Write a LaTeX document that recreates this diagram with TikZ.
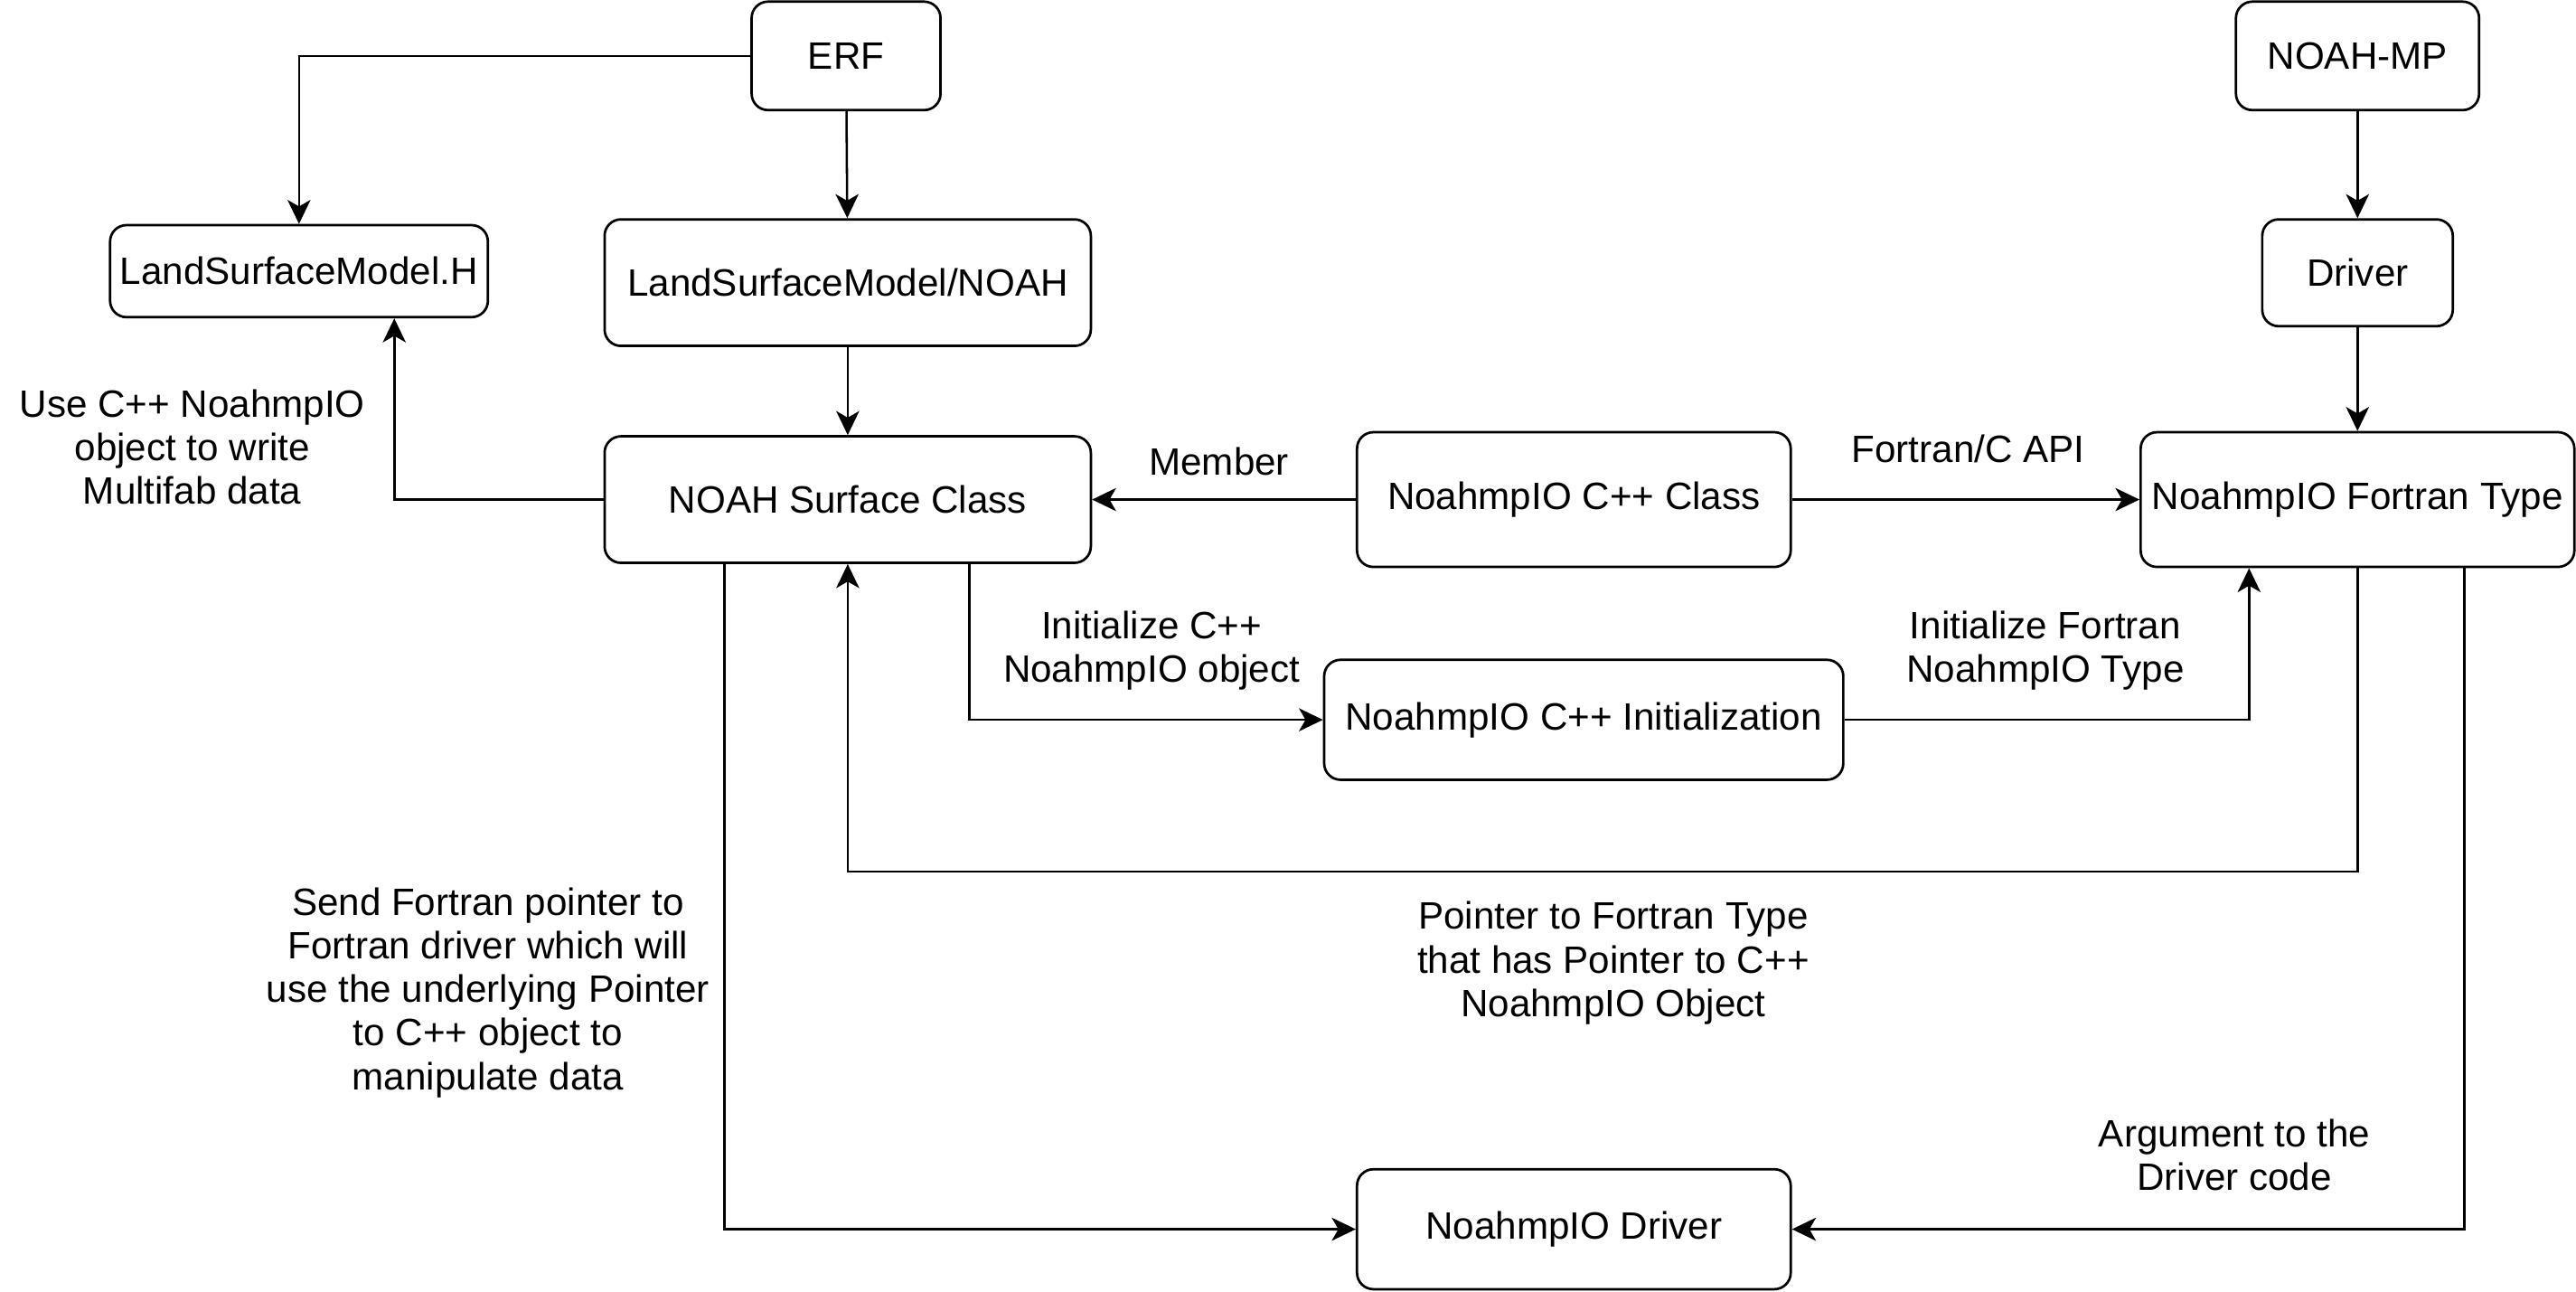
\documentclass[tikz,border=0pt]{standalone}
\usepackage{fontspec}
\setmainfont{Liberation Sans}
\usetikzlibrary{arrows.meta}
\tikzset{
  box/.style={draw, rounded corners=5pt, line width=0.75pt, inner sep=0pt, align=center},
  lbl/.style={align=center, inner sep=0pt},
  arr/.style={-{Stealth[length=7.3pt,width=7pt,inset=2pt]}, line width=0.7pt}
}
\begin{document}
\begin{tikzpicture}[x=0.5pt, y=-0.5pt, font=\fontsize{11.6}{13.25}\selectfont]
\useasboundingbox (0,0) rectangle (1568,786);
\node (erf) [box, minimum width=57.5pt, minimum height=33pt] at (515,34) {ERF};
\node (noahmp) [box, minimum width=74pt, minimum height=33pt] at (1435,34) {NOAH-MP};
\node (lsmh) [box, minimum width=115pt, minimum height=28pt] at (182,165) {LandSurfaceModel.H};
\node (lsmnoah) [box, minimum width=148pt, minimum height=38.5pt] at (516,172) {LandSurfaceModel/NOAH};
\node (driver) [box, minimum width=58pt, minimum height=32.5pt] at (1435,166) {Driver};
\node (nsc) [box, minimum width=148pt, minimum height=38.5pt] at (516,304) {NOAH Surface Class};
\node (cclass) [box, minimum width=132pt, minimum height=41pt] at (958,304) {NoahmpIO C++ Class};
\node (ftype) [box, minimum width=132pt, minimum height=41pt] at (1435,304) {NoahmpIO Fortran Type};
\node (cinit) [box, minimum width=158pt, minimum height=36.5pt] at (964,438) {NoahmpIO C++ Initialization};
\node (ndriver) [box, minimum width=132pt, minimum height=36.5pt] at (958,748) {NoahmpIO Driver};

\node (usecpp) [lbl] at (117,272) {Use C++ NoahmpIO\\object to write\\Multifab data};
\node (member) [lbl] at (742,281) {Member};
\node (fcapi) [lbl] at (1198,273) {Fortran/C API};
\node (initcpp) [lbl] at (701,396) {Initialize C++\\NoahmpIO object};
\node (initf) [lbl] at (1245,396) {Initialize Fortran\\NoahmpIO Type};
\node (ptrf) [lbl] at (982,586) {Pointer to Fortran Type\\that has Pointer to C++\\NoahmpIO Object};
\node (sendf) [lbl] at (297,604) {Send Fortran pointer to\\Fortran driver which will\\use the underlying Pointer\\to C++ object to\\manipulate data};
\node (argdrv) [lbl] at (1360,703) {Argument to the\\Driver code};

\draw [arr] (erf.west) -| (lsmh.north);
\draw [arr] (erf) -- (lsmnoah);
\draw [arr] (lsmnoah) -- (nsc);
\draw [arr] (nsc.west) -| ([xshift=29pt]lsmh.south);
\draw [arr] (cclass) -- (nsc);
\draw [arr] (cclass) -- (ftype);
\draw [arr] (noahmp) -- (driver);
\draw [arr] (driver) -- (ftype);
\draw [arr] ([xshift=37pt]nsc.south) |- (cinit.west);
\draw [arr] (cinit.east) -| ([xshift=-33pt]ftype.south);
\draw [arr] (ftype.south) |- ([yshift=-93.5pt]nsc.south) -- (nsc.south);
\draw [arr] ([xshift=-37.5pt]nsc.south) |- (ndriver.west);
\draw [arr] ([xshift=32.5pt]ftype.south) |- (ndriver.east);
\end{tikzpicture}
\end{document}
